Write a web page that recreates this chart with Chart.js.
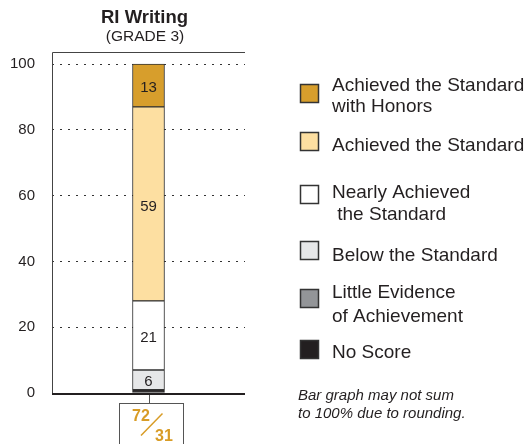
<!DOCTYPE html>
<html>
<head>
<meta charset="utf-8">
<title>RI Writing</title>
<script src="https://cdn.jsdelivr.net/npm/chart.js@4.4.0/dist/chart.umd.min.js"></script>
<style>
  html, body { margin: 0; padding: 0; background: #fff; }
  #wrap { width: 529px; height: 444px; position: relative; }
</style>
</head>
<body>
<div id="wrap"><canvas id="writingChart"></canvas></div>
<script>
// chart data (bottom of the stack first)
const categories = ['Grade 3'];
const levels = ['No Score', 'Little Evidence of Achievement', 'Below the Standard',
                'Nearly Achieved the Standard', 'Achieved the Standard', 'Achieved the Standard with Honors'];
const percents = [1, 0, 6, 21, 59, 13];
const legendLines = [['No Score'], ['Little Evidence', 'of Achievement'], ['Below the Standard'],
                     ['Nearly Achieved', ' the Standard'], ['Achieved the Standard'],
                     ['Achieved the Standard', 'with Honors']];
const yTicks = [0, 20, 40, 60, 80, 100];
const chartTitle = 'RI Writing';
const chartSubtitle = '(GRADE 3)';
const pctProficient = 72;   // achieved + honors
const numTested = 31;
const footNote = ['Bar graph may not sum', 'to 100% due to rounding.'];

// styles
const levelColors = ['#231F20', '#939598', '#E6E7E8', '#FFFFFF', '#FDDFA1', '#D79E2C'];
const FONT = '"Liberation Sans", Arial, Helvetica, sans-serif';
const INK = '#231F20';
const GOLD = '#D89C26';

// labels inside the bar segments
const segmentLabels = {
    id: 'segmentLabels',
    afterDatasetsDraw(chart) {
        const ctx = chart.ctx;
        ctx.save();
        ctx.font = '15px ' + FONT;
        ctx.fillStyle = INK;
        ctx.textAlign = 'center';
        ctx.textBaseline = 'middle';
        chart.data.datasets.forEach((ds, i) => {
            chart.getDatasetMeta(i).data.forEach((bar, j) => {
                const v = ds.data[j];
                if (v < 5) return;
                ctx.fillText(String(v), bar.x, (bar.y + bar.base) / 2 + 2.5);
            });
        });
        ctx.restore();
    }
};

// frame, title, legend, note and the small box under the bar
const decorations = {
    id: 'decorations',
    afterDraw(chart) {
        const ctx = chart.ctx;
        const area = chart.chartArea;
        const barX = chart.getDatasetMeta(0).data[0].x;
        ctx.save();

        // frame lines (left and top, thick base line)
        ctx.strokeStyle = '#444';
        ctx.lineWidth = 1;
        ctx.beginPath();
        ctx.moveTo(area.left + 0.5, area.bottom);
        ctx.lineTo(area.left + 0.5, area.top + 0.5);
        ctx.lineTo(area.right, area.top + 0.5);
        ctx.stroke();
        ctx.strokeStyle = INK;
        ctx.lineWidth = 2;
        ctx.beginPath();
        ctx.moveTo(area.left, area.bottom + 1);
        ctx.lineTo(area.right, area.bottom + 1);
        ctx.stroke();

        // title
        ctx.fillStyle = INK;
        ctx.textAlign = 'center';
        ctx.textBaseline = 'middle';
        ctx.font = 'bold 18.5px ' + FONT;
        ctx.fillText(chartTitle, 144.5, 18);
        ctx.font = '15.5px ' + FONT;
        ctx.fillText(chartSubtitle, 145, 37);

        // box under bar
        ctx.strokeStyle = '#555';
        ctx.lineWidth = 1;
        ctx.beginPath();
        ctx.moveTo(Math.round(barX) + 0.5, area.bottom + 2);
        ctx.lineTo(Math.round(barX) + 0.5, 403.5);
        ctx.stroke();
        ctx.strokeRect(119.5, 403.5, 64, 60);
        ctx.fillStyle = GOLD;
        ctx.font = 'bold 16px ' + FONT;
        ctx.fillText(String(pctProficient), 141, 417);
        ctx.fillText(String(numTested), 164, 437);
        ctx.strokeStyle = GOLD;
        ctx.lineWidth = 1.5;
        ctx.beginPath();
        ctx.moveTo(162.5, 413.5);
        ctx.lineTo(141, 435.5);
        ctx.stroke();

        // legend, top to bottom
        const boxTops = [84, 132, 185, 241, 289, 340];
        const lineYs = [[86, 107], [146], [193, 215], [256], [293, 317], [353]];
        ctx.textAlign = 'left';
        ctx.font = '19px ' + FONT;
        for (let k = 0; k < levels.length; k++) {
            const i = levels.length - 1 - k;
            ctx.fillStyle = levelColors[i];
            ctx.fillRect(300, boxTops[k], 19, 19);
            ctx.strokeStyle = '#333';
            ctx.lineWidth = 1.5;
            ctx.strokeRect(300.5, boxTops[k] + 0.5, 18, 18);
            ctx.fillStyle = INK;
            legendLines[i].forEach((line, n) => {
                ctx.fillText(line, 332, lineYs[k][n]);
            });
        }

        // note
        ctx.font = 'italic 15px ' + FONT;
        ctx.fillText(footNote[0], 298, 396);
        ctx.fillText(footNote[1], 298, 414);

        ctx.restore();
    }
};

const ctx = document.getElementById('writingChart').getContext('2d');
const chart = new Chart(ctx, {
    type: 'bar',
    data: {
        labels: categories,
        datasets: levels.map((name, i) => ({
            label: name,
            data: [percents[i]],
            backgroundColor: levelColors[i],
            borderColor: '#333',
            borderWidth: 1,
            borderSkipped: false,
            barThickness: 32
        }))
    },
    options: {
        responsive: true,
        maintainAspectRatio: false,
        animation: false,
        layout: { padding: { top: 52, right: 284, bottom: 51, left: 0 } },
        plugins: {
            legend: { display: false },
            tooltip: { enabled: false },
            title: { display: false }
        },
        scales: {
            x: { stacked: true, display: false },
            y: {
                stacked: true,
                min: 0,
                max: 103.7,
                afterBuildTicks: axis => { axis.ticks = yTicks.map(v => ({ value: v })); },
                afterFit: axis => { axis.width = 52; },
                border: { display: false, dash: [2, 6] },
                grid: {
                    drawTicks: false,
                    lineWidth: 1,
                    color: c => (c.tick && c.tick.value === 0) ? 'rgba(0,0,0,0)' : '#333'
                },
                ticks: { padding: 17, color: INK, font: { family: FONT, size: 15 } }
            }
        }
    },
    plugins: [segmentLabels, decorations]
});
</script>
</body>
</html>
